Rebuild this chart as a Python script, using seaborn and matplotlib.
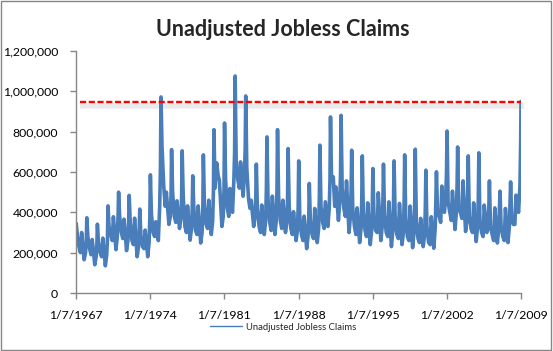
import numpy as np
import pandas as pd
import seaborn as sns
import matplotlib
matplotlib.use("Agg")
import matplotlib.pyplot as plt
from matplotlib.patches import Rectangle
from matplotlib.ticker import FuncFormatter

years = list(range(1967, 2009))
jan_peak = [345, 373, 341, 432, 500, 484, 416, 586, 972, 711, 705, 581, 685, 810,
            843, 1076, 977, 639, 774, 810, 716, 655, 543, 733, 873, 881, 708, 680,
            617, 639, 655, 685, 713, 609, 601, 803, 724, 680, 695, 556, 505, 551]
feb = [290, 280, 250, 330, 380, 350, 290, 390, 724, 500, 480, 420, 440, 520,
       560, 650, 620, 420, 470, 480, 430, 380, 360, 430, 560, 520, 420, 400,
       380, 390, 380, 370, 360, 330, 400, 450, 420, 380, 360, 330, 330, 370]
apr = [230, 220, 200, 290, 300, 260, 230, 300, 530, 380, 330, 310, 340, 645,
       420, 560, 470, 330, 350, 360, 320, 290, 290, 350, 576, 420, 330, 310,
       310, 300, 290, 280, 270, 250, 380, 400, 400, 320, 300, 290, 280, 340]
jun = [200, 190, 180, 260, 270, 240, 220, 280, 430, 350, 300, 290, 320, 580,
       380, 520, 420, 300, 310, 320, 290, 260, 270, 320, 430, 380, 290, 280,
       300, 280, 270, 260, 250, 240, 350, 360, 370, 300, 280, 260, 260, 340]
jul_peak = [300, 265, 272, 378, 366, 371, 312, 353, 500, 457, 432, 432, 460, 560,
            518, 650, 460, 436, 480, 460, 403, 381, 419, 452, 526, 556, 422, 447,
            497, 452, 444, 431, 370, 378, 530, 505, 556, 447, 436, 422, 419, 485]
oct_low = [165, 140, 135, 215, 210, 180, 180, 260, 340, 320, 262, 248, 290, 330,
           400, 480, 330, 290, 290, 300, 260, 220, 250, 330, 360, 300, 250, 240,
           260, 230, 240, 225, 230, 222, 400, 315, 305, 255, 300, 248, 250, 400]
nov = [200, 180, 190, 280, 260, 230, 250, 430, 380, 370, 320, 300, 360, 380,
       560, 590, 380, 360, 360, 350, 310, 280, 320, 420, 460, 380, 320, 310,
       330, 310, 300, 300, 290, 320, 480, 400, 370, 330, 320, 320, 330, 530]
dec = [260, 240, 270, 380, 360, 320, 380, 620, 480, 480, 420, 420, 500, 520,
       700, 720, 480, 520, 520, 480, 430, 380, 480, 560, 600, 520, 460, 440,
       470, 460, 450, 460, 420, 470, 600, 540, 480, 470, 440, 420, 450, 751]
jan_2009 = 950
threshold = 945000

tick_years = [1967, 1974, 1981, 1988, 1995, 2002, 2009]

profiles = [jan_peak, feb, apr, jun, jul_peak, oct_low, nov, dec]
fracs = [0.02, 0.12, 0.28, 0.42, 0.53, 0.77, 0.90, 0.97]
rows = []
for i, yr in enumerate(years):
    for arr, f in zip(profiles, fracs):
        rows.append((yr + f, arr[i] * 1000))
rows.append((2009.0, jan_2009 * 1000))
df = pd.DataFrame(rows, columns=["Date", "Claims"])

sns.set_style("white")
plt.rcParams['font.family'] = ['Lato', 'DejaVu Sans']

fig = plt.figure(figsize=(5.53, 3.51), dpi=100)
ax = fig.add_axes([76/553, 1-293/351, (521-76)/553, (293-51)/351])

# shadow + red dashed reference line
ax.plot([1967.38, 2009.3], [threshold - 20000] * 2, color="#d4d4d4", lw=4, alpha=0.45,
        solid_capstyle="butt", zorder=1, clip_on=False)
sns.lineplot(data=df, x="Date", y="Claims", ax=ax, color="#4a7ebb", lw=2.6,
             estimator=None, label="Unadjusted Jobless Claims", zorder=2)
ax.plot([1967.38, 2009.0], [threshold] * 2, color="#ff0000", lw=1.7, ls=(0, (2.6, 1.1)),
        zorder=3)

ax.set_xlim(1967, 2009)
ax.set_ylim(0, 1200000)
ax.set_xticks(tick_years)
ax.set_xticklabels([f"1/7/{y}" for y in tick_years])
ax.set_yticks(range(0, 1200001, 200000))
ax.yaxis.set_major_formatter(FuncFormatter(lambda v, p: f"{int(v):,}"))
ax.set_xlabel("")
ax.set_ylabel("")
for s in ["top", "right"]:
    ax.spines[s].set_visible(False)
for s in ["left", "bottom"]:
    ax.spines[s].set_color("#868686")
    ax.spines[s].set_linewidth(1)
ax.tick_params(axis="both", direction="out", length=4, width=1, color="#868686",
               labelsize=8.8, labelcolor="black", left=True, bottom=True)
ax.tick_params(axis="x", pad=8)
ax.tick_params(axis="y", pad=9)

ax.get_legend().remove()
handles, labels = ax.get_legend_handles_labels()
leg = fig.legend(handles[:1], labels[:1], loc="center", bbox_to_anchor=(283/553, 1-327/351),
                 frameon=False, fontsize=6.8, handlelength=3.4, handletextpad=0.4)
for l in leg.get_lines():
    l.set_linewidth(1)

fig.text(283/553, 1-30/351, "Unadjusted Jobless Claims", ha="center", va="center",
         fontsize=15.5, fontweight="bold")

fig.patches.append(Rectangle((0.002, 0.003), 0.995, 0.993, transform=fig.transFigure,
                             fill=False, edgecolor="#868686", lw=1))

fig.savefig("out.png", dpi=100)
